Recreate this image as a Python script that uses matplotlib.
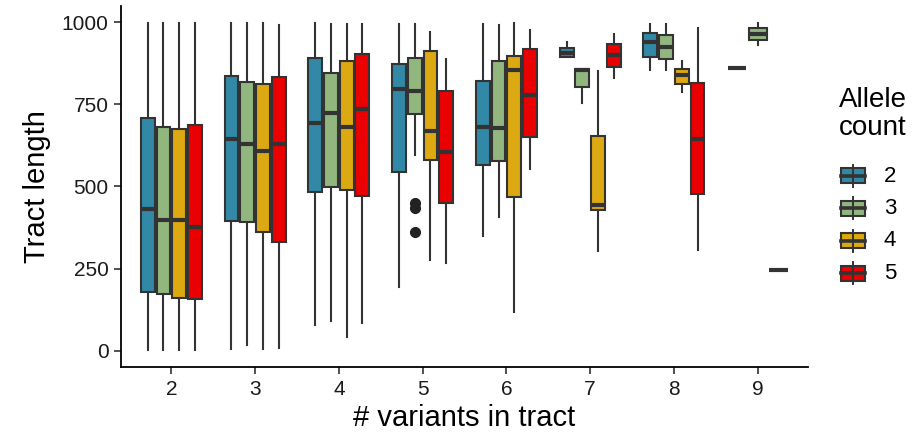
import matplotlib
matplotlib.use("Agg")
import matplotlib.pyplot as plt
from matplotlib.patches import Rectangle
from matplotlib.lines import Line2D

plt.rcParams['font.family'] = ['Liberation Sans', 'DejaVu Sans']

# ---- data ----
categories = [2, 3, 4, 5, 6, 7, 8, 9]
groups = ["2", "3", "4", "5"]
colors = ["#3189A7", "#91B77F", "#DCA913", "#EA0000"]

# per group: [whislo, q1, med, q3, whishi] for each category (None = absent)
g2 = [[3, 179, 431, 710, 997], [5, 396, 645, 836, 997], [79, 483, 693, 893, 997],
      [194, 545, 798, 872, 994], [350, 565, 682, 822, 994], [896, 896, 908, 921, 939],
      [856, 896, 939, 967, 994], [861, 861, 861, 861, 861]]
g3 = [[3, 173, 398, 682, 997], [16, 393, 629, 819, 997], [90, 497, 724, 845, 996],
      [597, 722, 792, 893, 994], [407, 577, 677, 882, 992], [754, 803, 856, 858, 858],
      [855, 889, 924, 961, 994], [931, 947, 965, 982, 997]]
g4 = [[3, 161, 398, 675, 997], [5, 361, 608, 813, 997], [42, 490, 681, 881, 996],
      [275, 580, 670, 914, 971], [117, 469, 855, 899, 997], [303, 427, 444, 654, 851],
      [789, 812, 839, 858, 882], None]
g5 = [[3, 156, 378, 688, 997], [7, 331, 631, 835, 991], [84, 470, 737, 904, 995],
      [267, 450, 605, 790, 888], [554, 652, 778, 919, 977], [830, 864, 901, 934, 965],
      [307, 477, 646, 816, 984], [247, 247, 247, 247, 247]]
series = [g2, g3, g4, g5]
# outliers: (group index, category index, values)
outliers = [(1, 3, [451, 434, 361])]

yticks = [0, 250, 500, 750, 1000]

# ---- figure ----
W, H = 916, 440
fig = plt.figure(figsize=(W / 100, H / 100), dpi=100)
ax = fig.add_axes([121 / W, (H - 367) / H, (808 - 121) / W, (367 - 6) / H])

edge = "#333333"
dodge = 0.75
for ci, cat in enumerate(categories):
    present = [gi for gi in range(len(groups)) if series[gi][ci] is not None]
    n = len(present)
    slot = dodge / n
    for k, gi in enumerate(present):
        wl, q1, med, q3, wh = series[gi][ci]
        fl = []
        for (og, oc, vals) in outliers:
            if og == gi and oc == ci:
                fl = vals
        pos = cat - dodge / 2 + (k + 0.5) * slot
        stats = [dict(whislo=wl, q1=q1, med=med, q3=q3, whishi=wh, fliers=fl)]
        ax.bxp(stats, positions=[pos], widths=slot * 0.88, patch_artist=True,
               showcaps=False, manage_ticks=False,
               boxprops=dict(facecolor=colors[gi], edgecolor=edge, linewidth=1.5),
               whiskerprops=dict(color=edge, linewidth=1.5),
               medianprops=dict(color=edge, linewidth=3.0, solid_capstyle='butt'),
               flierprops=dict(marker='o', markerfacecolor='#222222',
                               markeredgecolor='#222222', markersize=7))

ax.set_xlim(1.4, 9.6)
ax.set_ylim(-50, 1050)
ax.set_xticks(categories)
ax.set_xticklabels([str(c) for c in categories])
ax.set_yticks(yticks)
ax.set_yticklabels([str(v) for v in yticks])
for s in ["top", "right"]:
    ax.spines[s].set_visible(False)
for s in ["left", "bottom"]:
    ax.spines[s].set_linewidth(1.3)
    ax.spines[s].set_color("black")
ax.tick_params(axis='both', labelsize=15, length=5, width=1.2, color="#333333",
               labelcolor="#1a1a1a", pad=4)
ax.set_xlabel("# variants in tract", fontsize=21, labelpad=4)
ax.set_ylabel("Tract length", fontsize=21, labelpad=8)

# ---- legend (drawn in pixel coordinates) ----
lg = fig.add_axes([0, 0, 1, 1], zorder=5)
lg.set_xlim(0, W)
lg.set_ylim(H, 0)
lg.axis("off")
lg.text(873, 87, "Allele\ncount", fontsize=20, ha="center", va="top",
        multialignment="left", linespacing=1.12)
key_y0, key_dy = 176, 32.5
for i, g in enumerate(groups):
    yc = key_y0 + i * key_dy
    lg.add_line(Line2D([853, 853], [yc - 11, yc + 11], color=edge, lw=1.4))
    lg.add_patch(Rectangle((841, yc - 7.5), 24, 15, facecolor=colors[i],
                           edgecolor=edge, lw=1.5))
    lg.add_line(Line2D([841, 865], [yc, yc], color=edge, lw=2.6))
    lg.text(884, yc, g, fontsize=16, ha="left", va="center")

fig.savefig("out.png", dpi=100)
